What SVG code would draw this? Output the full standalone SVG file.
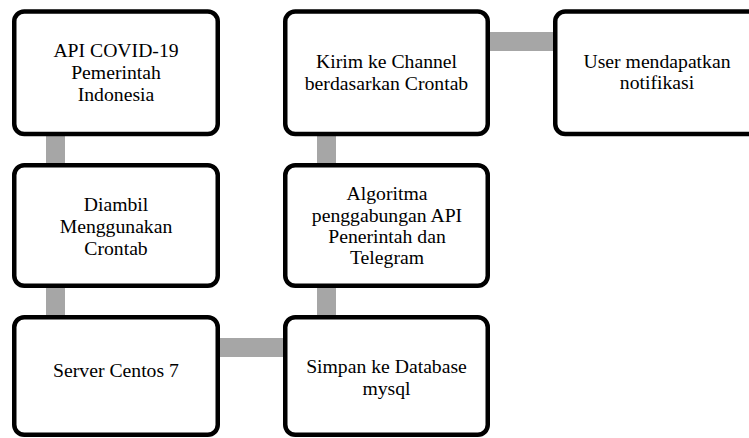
<svg xmlns="http://www.w3.org/2000/svg" width="749" height="438" viewBox="0 0 749 438">
<style>
.box{fill:#fff;stroke:#000;stroke-width:4.5}
.conn{fill:#a6a6a6}
.t{font-family:"Liberation Serif","Times New Roman","DejaVu Serif",serif;font-size:19.7px;fill:#000;text-anchor:middle}
</style>
<rect width="749" height="438" fill="#fff"/>
<g id="connectors">
<rect class="conn" x="46" y="134" width="19" height="31"/>
<rect class="conn" x="46" y="286" width="19" height="31"/>
<rect class="conn" x="218" y="338" width="67" height="19"/>
<rect class="conn" x="317" y="286" width="19" height="31"/>
<rect class="conn" x="317" y="134" width="19" height="31"/>
<rect class="conn" x="488" y="32" width="67" height="19"/>
</g>
<g class="t">
<g id="api">
<rect class="box" x="14.25" y="11.5" width="203.5" height="122.5" rx="10"/>
<text x="116" y="57">API COVID-19</text>
<text x="116" y="79">Pemerintah</text>
<text x="116" y="101">Indonesia</text>
</g>
<g id="diambil">
<rect class="box" x="14.25" y="165.25" width="203.5" height="120.5" rx="10"/>
<text x="116" y="211">Diambil</text>
<text x="116" y="233">Menggunakan</text>
<text x="116" y="255">Crontab</text>
</g>
<g id="server">
<rect class="box" x="14.25" y="317.25" width="203.5" height="117.5" rx="10"/>
<text x="116" y="377">Server Centos 7</text>
</g>
<g id="simpan">
<rect class="box" x="285.25" y="317.25" width="202.5" height="117.5" rx="10"/>
<text x="386.5" y="373">Simpan ke Database</text>
<text x="386.5" y="395">mysql</text>
</g>
<g id="algoritma">
<rect class="box" x="285.25" y="165.25" width="202.5" height="120.5" rx="10"/>
<text x="387" y="200">Algoritma</text>
<text x="387" y="222">penggabungan API</text>
<text x="387" y="243">Penerintah dan</text>
<text x="387" y="264">Telegram</text>
</g>
<g id="kirim">
<rect class="box" x="285.25" y="11.5" width="202.5" height="122.5" rx="10"/>
<text x="386.5" y="68">Kirim ke Channel</text>
<text x="386.5" y="90">berdasarkan Crontab</text>
</g>
<g id="user">
<rect class="box" x="555.25" y="11.5" width="203.5" height="122.5" rx="10"/>
<text x="657" y="68">User mendapatkan</text>
<text x="657" y="89">notifikasi</text>
</g>
</g>
</svg>
